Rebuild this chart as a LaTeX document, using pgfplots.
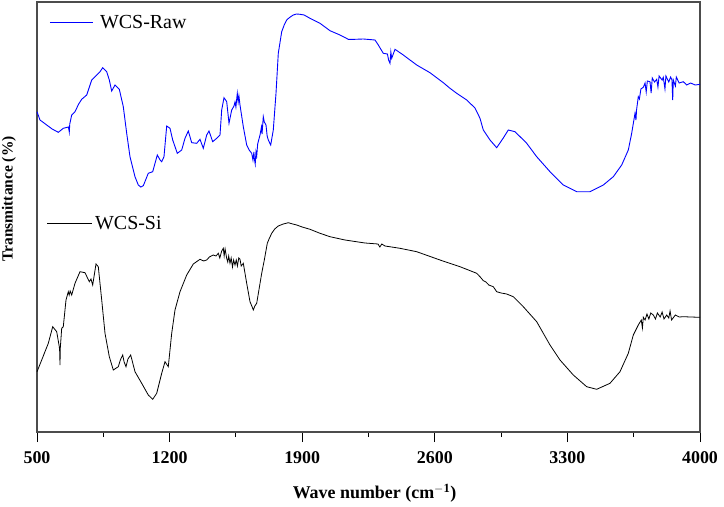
\documentclass[border=0pt]{standalone}
\usepackage{pgfplots}
\pgfplotsset{compat=1.18}
\usepackage{fontspec}
\setmainfont{Liberation Serif}
\begin{document}
\begin{tikzpicture}
\useasboundingbox (-37bp,-75bp) rectangle (687bp,2bp+430bp);
\begin{axis}[
  at={(0,0)}, anchor=south west,
  scale only axis,
  width=663bp, height=430bp,
  xmin=500, xmax=4000, ymin=0, ymax=430,
  axis line style={black!70, line width=1.1bp},
  xtick={500,1200,1900,2600,3300,4000},
  xticklabels={500,1200,1900,2600,3300,4000},
  minor x tick num=1,
  ytick=\empty,
  xtick pos=bottom,
  tick align=outside,
  major tick length=10bp, minor tick length=5bp,
  tick style={black, line width=0.9bp},
  xticklabel style={font=\fontsize{18}{18}\selectfont\bfseries, inner sep=0pt, yshift=-9bp},
  xlabel={Wave number (cm$^{\mathbf{-1}}$)},
  xlabel style={font=\fontsize{18}{18}\selectfont\bfseries, at={(axis description cs:0.5,0)}, anchor=north, inner sep=0pt, yshift=-52bp, xshift=6bp},
  ylabel={Transmittance (\%)},
  ylabel style={font=\fontsize{15.5}{15.5}\selectfont\bfseries, at={(axis description cs:0,0.5)}, anchor=south, inner sep=0pt, yshift=21bp, xshift=18bp},
  clip=false,
]
\addplot[blue, line width=0.9bp] coordinates {
(500,320.3)(515.8,312)(551.2,307)(580,303)(612.4,299.7)(638.8,303.7)(666,305)(670.5,300)(673,308)(683.2,317)(700.6,320.3)(720,328)(736,332.7)(762.4,337)(788.8,352)(815.2,357)(832.6,360.3)(846.8,364.3)(867.9,360.3)(881.7,352)(894.3,341)(911.8,347)(934.5,342.7)(955.6,325.3)(973.5,298.7)(990.9,275.3)(1017.3,255.3)(1034.8,247)(1048,245)(1061.2,246.3)(1087.5,258.7)(1110.8,260.3)(1135.1,277)(1150,272)(1158.3,270.3)(1170.4,275.3)(1184.7,306)(1202.1,303.7)(1216.4,292)(1240.6,278.7)(1263.9,282)(1281.3,293.7)(1298.7,301)(1316.7,289.3)(1343.1,288.7)(1360.5,292.7)(1377.9,283.7)(1395.9,297)(1408,301)(1427.5,290.3)(1448.6,293.7)(1466.1,297)(1475,322)(1487.2,334.3)(1501.4,330.3)(1513.6,308.7)(1527.8,322)(1540,326)(1545.2,330)(1550,325)(1557.4,338.7)(1562,330)(1566,336)(1571.6,327)(1589.1,305.3)(1607,287)(1620,282)(1633.4,278.7)(1640,272)(1645,280)(1647.2,273.7)(1652,268)(1656,280)(1659.8,276)(1665,288)(1677.2,297)(1685,305)(1688,298)(1694.6,315.3)(1700,310)(1708.9,307)(1715,296)(1721,292)(1733.7,287)(1747.4,302)(1761.7,338.7)(1773.8,378.7)(1791.8,400.3)(1805,407)(1818.2,412)(1830,414)(1844.5,416)(1853,417)(1870,418)(1888.4,417.7)(1910,417)(1941.2,413.7)(1994,408.7)(2046.7,401.3)(2099.5,397)(2143.4,392.7)(2178.7,392.7)(2222.5,393)(2284.3,392)(2301.7,387)(2328.1,378.7)(2350,378)(2356,372)(2363.5,368.7)(2368,380)(2372.5,373.7)(2389.9,382.7)(2433.7,377)(2504.4,367)(2574.6,359.3)(2644.9,349.3)(2680.2,343.7)(2715.6,338.7)(2768.4,332)(2812.2,324)(2838.6,313.7)(2856,302)(2891.4,292)(2926.7,284.3)(2961.6,294)(2988,302)(3023.4,300.3)(3058.7,293.7)(3085.1,288.7)(3137.9,275.3)(3208.1,260.3)(3278.3,247)(3349,240.3)(3419.3,240.3)(3489.5,247)(3542.3,255.3)(3586.6,267)(3621.5,282)(3639.4,298.7)(3656.9,318.7)(3662,312)(3665,322)(3674.3,335.3)(3680,333)(3688,343)(3700.7,344.7)(3710,349)(3716,340)(3722,351)(3736,350.3)(3742,339)(3748,354)(3760,350)(3771.4,352.7)(3778,345)(3784,356)(3800,352)(3806.2,354.7)(3815,343)(3820,356)(3835,350)(3845,355)(3852,352)(3855.9,332)(3859,352)(3870,346)(3875,355)(3890,349)(3911.8,350.3)(3930,347)(3950,349)(3975,347)(4000,347.7)
};
\addplot[black, line width=0.8bp] coordinates {
(500,60.3)(524.8,72)(559.7,88.7)(582.9,105.3)(604,100.3)(617.7,85.3)(620,80)(621.4,67)(623,84)(630.4,103.7)(638.8,105.3)(653.1,132)(665.2,140.3)(670,137)(675,141)(683.2,137)(700.6,148.7)(727,160.3)(753.4,159.3)(776.1,150.3)(785,153)(794,147)(811.5,168)(823.6,165.3)(841.6,132)(859,98.7)(881.7,75.3)(902.8,62)(929.2,65.3)(940,72)(952.4,77)(960,70)(969.8,65.3)(980,73)(994.6,77)(1017.3,60.3)(1052.7,48.7)(1087.5,37)(1110.8,32.7)(1131.9,38.7)(1158.3,58.7)(1175.7,70.3)(1193.1,65.3)(1211.1,98.7)(1228.5,122)(1254.9,140.3)(1290.3,157)(1325.1,168)(1340,170)(1360.5,172.7)(1380,171)(1395.9,172)(1410,175)(1430.7,177)(1445,176)(1457.1,178.7)(1465,174)(1475,181)(1483.5,183.7)(1488,176)(1493,183)(1501.4,173.7)(1507,170)(1512,176)(1518.8,168.7)(1525,174)(1532,165)(1538,172)(1545.2,167)(1552,172)(1558,166)(1565,174)(1571.6,172.7)(1578,166)(1589.1,168.7)(1607,148.7)(1624.4,130.3)(1636,125)(1641.9,122)(1650,126)(1659.8,128.7)(1686.2,158.7)(1700,172)(1715.7,188.7)(1725,193)(1739,198.7)(1755,203)(1773.8,206)(1800,208)(1826.6,209.3)(1850,208)(1870.9,207)(1900,205)(1941.2,202.7)(1994,198.7)(2046.7,195.3)(2125.9,192)(2231.5,189)(2300,188)(2310,185)(2320,188)(2337.1,186)(2416.2,183.7)(2504.4,180.3)(2627.4,172)(2733,165.3)(2821.2,158.7)(2840,155)(2856,151.3)(2870,150)(2885,147)(2908.8,145.3)(2926.7,140.3)(2950,139)(2979.5,138)(3014.3,135.3)(3067.1,125.3)(3137.9,110.3)(3208.1,87)(3260.9,72)(3331.1,57)(3401.8,45.3)(3454.6,42.7)(3524.8,48.7)(3577.6,60.3)(3621.5,78.7)(3647.9,97)(3674.3,107)(3690,112)(3696,104)(3700.7,114.7)(3710,112)(3720,118)(3730,113)(3740,119)(3753.5,117)(3765,113)(3775,119)(3790,115)(3800,120)(3810,113)(3824.2,117)(3835,114)(3842,121)(3850,112)(3870,117)(3890,115)(3911.8,115.3)(3950,115)(4000,114.7)
};
\draw[blue, line width=0.9bp] (axis cs:568,410) -- (axis cs:795,410);
\node[anchor=west, inner sep=0pt, font=\fontsize{20}{20}\selectfont] at (axis cs:832,410) {WCS-Raw};
\draw[black, line width=0.8bp] (axis cs:553,208.7) -- (axis cs:790,208.7);
\node[anchor=west, inner sep=0pt, font=\fontsize{20}{20}\selectfont] at (axis cs:806,208.7) {WCS-Si};
\end{axis}
\end{tikzpicture}
\end{document}
